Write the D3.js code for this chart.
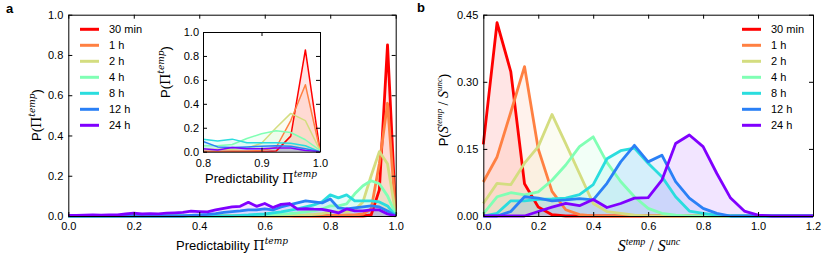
<!doctype html>
<html>
<head>
<meta charset="utf-8">
<script src="https://d3js.org/d3.v7.min.js"></script>
<style>
  body { margin: 0; background: #fff; }
  svg text { font-family: "Liberation Sans", Arial, sans-serif; fill: #000; }
  .axis text { font-size: 11px; }
  .axis path, .axis line { stroke: #000; stroke-width: 1; }
</style>
</head>
<body>
<div id="chart"></div>
<script>
// legend names, one per series (same order everywhere)
var seriesNames = ["30 min", "1 h", "2 h", "4 h", "8 h", "12 h", "24 h"];
var seriesColors = ["#ff0000", "#ff8042", "#d4dd80", "#80ffb4", "#2addde", "#2a80f6", "#8000ff"];

// panel a : predictability bins
var predX = [0, 0.025, 0.05, 0.075, 0.1, 0.125, 0.15, 0.175, 0.2, 0.225, 0.25, 0.275, 0.3, 0.325, 0.35,
  0.375, 0.4, 0.425, 0.45, 0.475, 0.5, 0.525, 0.55, 0.575, 0.6, 0.625, 0.65, 0.675, 0.7, 0.725, 0.75,
  0.775, 0.8, 0.825, 0.85, 0.875, 0.9, 0.925, 0.95, 0.975, 1.0];

var pred30min = [0, 0, 0, 0, 0, 0, 0, 0, 0, 0, 0, 0, 0, 0, 0, 0, 0, 0, 0, 0, 0, 0, 0, 0, 0, 0, 0, 0, 0, 0, 0,
  0, 0, 0, 0, 0, 0, 0.005, 0.13, 0.85, 0.01];
var pred1h = [0, 0, 0, 0, 0, 0, 0, 0, 0, 0, 0, 0, 0, 0, 0, 0, 0, 0, 0, 0, 0, 0, 0, 0, 0, 0, 0, 0, 0, 0, 0,
  0, 0.003, 0.003, 0.005, 0.005, 0.01, 0.035, 0.26, 0.56, 0.01];
var pred2h = [0, 0, 0, 0, 0, 0, 0, 0, 0, 0, 0, 0, 0, 0, 0, 0, 0, 0, 0, 0, 0, 0, 0, 0, 0, 0, 0, 0, 0.003, 0.005, 0.008,
  0.012, 0.02, 0.02, 0.02, 0.03, 0.07, 0.2, 0.32, 0.26, 0.01];
var pred4h = [0, 0, 0, 0, 0, 0, 0, 0, 0, 0, 0, 0, 0, 0, 0, 0, 0, 0, 0, 0, 0, 0, 0, 0.003, 0.005, 0.008, 0.01, 0.012, 0.015, 0.02, 0.025,
  0.035, 0.05, 0.05, 0.06, 0.11, 0.15, 0.175, 0.16, 0.1, 0.01];
var pred8h = [0, 0, 0, 0, 0, 0, 0, 0, 0, 0, 0, 0, 0, 0, 0, 0, 0, 0, 0, 0, 0, 0.003, 0.005, 0.008, 0.01, 0.015, 0.02, 0.028, 0.035, 0.045, 0.055,
  0.07, 0.105, 0.09, 0.105, 0.075, 0.075, 0.075, 0.07, 0.05, 0];
var pred12h = [0, 0, 0, 0, 0, 0, 0, 0, 0, 0, 0, 0, 0, 0, 0, 0.003, 0.005, 0.008, 0.012, 0.018, 0.022, 0.025, 0.03, 0.03, 0.035, 0.03, 0.045, 0.055, 0.065, 0.075, 0.07,
  0.065, 0.085, 0.04, 0.035, 0.04, 0.045, 0.05, 0.045, 0.025, 0];
var pred24h = [0.003, 0.003, 0.004, 0.005, 0.004, 0.005, 0.006, 0.01, 0.014, 0.01, 0.012, 0.011, 0.014, 0.016, 0.018,
  0.024, 0.022, 0.02, 0.03, 0.038, 0.045, 0.048, 0.068, 0.048, 0.062, 0.042, 0.058, 0.062, 0.034, 0.036, 0.034,
  0.033, 0.025, 0.015, 0.035, 0.025, 0.025, 0.03, 0.03, 0.01, 0];

// panel b : S_temp / S_unc bins
var ratioX = [0, 0.05, 0.1, 0.15, 0.2, 0.25, 0.3, 0.35, 0.4, 0.45, 0.5, 0.55, 0.6, 0.65, 0.7, 0.75, 0.8,
  0.85, 0.9, 0.95, 1.0, 1.05, 1.1, 1.15, 1.2];

var ratio30min = [0.16, 0.432, 0.323, 0.072, 0.02, 0.003, 0, 0, 0, 0, 0, 0, 0, 0, 0, 0, 0, 0, 0, 0, 0, 0, 0, 0, 0];
var ratio1h = [0.076, 0.132, 0.232, 0.334, 0.15, 0.055, 0.014, 0.003, 0, 0, 0, 0, 0, 0, 0, 0, 0, 0, 0, 0, 0, 0, 0, 0, 0];
var ratio2h = [0.028, 0.073, 0.07, 0.118, 0.155, 0.227, 0.162, 0.095, 0.028, 0.01, 0.006, 0.002, 0, 0, 0, 0, 0, 0, 0, 0, 0, 0, 0, 0, 0];
var ratio4h = [0.005, 0.043, 0.052, 0.047, 0.054, 0.08, 0.114, 0.155, 0.177, 0.12, 0.077, 0.043, 0.017, 0.006, 0.002, 0, 0, 0, 0, 0, 0, 0, 0, 0, 0];
var ratio8h = [0, 0.006, 0.034, 0.034, 0.037, 0.038, 0.04, 0.048, 0.07, 0.128, 0.146, 0.152, 0.118, 0.088, 0.043, 0.011, 0.006, 0.002, 0, 0, 0, 0, 0, 0, 0];
var ratio12h = [0, 0, 0.01, 0.043, 0.04, 0.034, 0.036, 0.039, 0.036, 0.073, 0.121, 0.158, 0.121, 0.136, 0.077, 0.04, 0.017, 0.006, 0, 0, 0, 0, 0, 0, 0];
var ratio24h = [0, 0, 0, 0, 0.01, 0.02, 0.028, 0.023, 0.037, 0.019, 0.028, 0.04, 0.041, 0.08, 0.162, 0.181, 0.155, 0.095, 0.04, 0.011, 0.002, 0, 0, 0, 0];

// tick values
var predTicks = [0, 0.2, 0.4, 0.6, 0.8, 1.0];
var insetXTicks = [0.8, 0.9, 1.0];
var ratioXTicks = [0, 0.2, 0.4, 0.6, 0.8, 1.0, 1.2];
var ratioYTicks = [0, 0.15, 0.30, 0.45];

var predSeries = [pred30min, pred1h, pred2h, pred4h, pred8h, pred12h, pred24h];
var ratioSeries = [ratio30min, ratio1h, ratio2h, ratio4h, ratio8h, ratio12h, ratio24h];

var svg = d3.select('#chart').append('svg')
  .attr('width', 831).attr('height', 260);

// draws a set of filled lines
function drawSeries(g, xs, series, x, y, lw) {
  series.forEach(function(vals, i) {
    var pts = xs.map(function(d, j) { return [d, vals[j]]; });
    g.append('path')
      .datum(pts)
      .attr('d', d3.area().x(function(d) { return x(d[0]); }).y0(y(0)).y1(function(d) { return y(d[1]); }))
      .style('fill', seriesColors[i])
      .style('fill-opacity', 0.1);
  });
  series.forEach(function(vals, i) {
    var pts = xs.map(function(d, j) { return [d, vals[j]]; });
    g.append('path')
      .datum(pts)
      .attr('d', d3.line().x(function(d) { return x(d[0]); }).y(function(d) { return y(d[1]); }))
      .style('fill', 'none')
      .style('stroke', seriesColors[i])
      .style('stroke-width', lw)
      .style('stroke-linejoin', 'round');
  });
}

// frame with inward ticks on all four sides
function drawAxes(g, x, y, xt, yt, xfmt, yfmt, xpad, ypad) {
  var x0 = x.range()[0], x1 = x.range()[1], y0 = y.range()[0], y1 = y.range()[1];
  g.append('g').attr('class', 'axis').attr('transform', 'translate(0,' + y0 + ')')
    .call(d3.axisBottom(x).tickValues(xt).tickFormat(d3.format(xfmt)).tickSizeInner(-4).tickSizeOuter(0).tickPadding(xpad));
  g.append('g').attr('class', 'axis').attr('transform', 'translate(0,' + y1 + ')')
    .call(d3.axisTop(x).tickValues(xt).tickFormat('').tickSizeInner(-4).tickSizeOuter(0));
  g.append('g').attr('class', 'axis').attr('transform', 'translate(' + x0 + ',0)')
    .call(d3.axisLeft(y).tickValues(yt).tickFormat(d3.format(yfmt)).tickSizeInner(-4).tickSizeOuter(0).tickPadding(ypad));
  g.append('g').attr('class', 'axis').attr('transform', 'translate(' + x1 + ',0)')
    .call(d3.axisRight(y).tickValues(yt).tickFormat('').tickSizeInner(-4).tickSizeOuter(0));
}

function legend(g, lx, ly) {
  seriesNames.forEach(function(name, i) {
    g.append('line')
      .attr('x1', lx).attr('x2', lx + 19)
      .attr('y1', ly + i * 16).attr('y2', ly + i * 16)
      .style('stroke', seriesColors[i]).style('stroke-width', 3);
    g.append('text')
      .attr('x', lx + 29).attr('y', ly + i * 16 + 4)
      .style('font-size', '11px')
      .text(name);
  });
}

// label text "Predictability Π^temp" or "P(Π^temp)"
function piLabel(t, prefix, suffix) {
  t.append('tspan').text(prefix);
  t.append('tspan').style('font-family', '"DejaVu Serif", serif').style('font-size', '13px').text('Π');
  t.append('tspan').attr('dy', -6).style('font-family', '"DejaVu Serif", serif').style('font-style', 'italic').style('font-size', '9px').text('temp');
  if (suffix) t.append('tspan').attr('dy', 6).text(suffix);
}

// ---------------- panel a ----------------
var ga = svg.append('g');
var xa = d3.scaleLinear().domain([0, 1]).range([68.3, 395.7]);
var ya = d3.scaleLinear().domain([0, 1]).range([216, 14.7]);
drawSeries(ga, predX, predSeries, xa, ya, 2.8);
drawAxes(ga, xa, ya, predTicks, predTicks, '.1f', '.1f', 6, 5);
legend(ga, 80, 29.3);

var lbA = ga.append('text').attr('x', 232).attr('y', 250).attr('text-anchor', 'middle').style('font-size', '13px');
piLabel(lbA, 'Predictability ', null);
var lyA = ga.append('text').attr('transform', 'translate(41,115) rotate(-90)').attr('text-anchor', 'middle').style('font-size', '13px');
piLabel(lyA, 'P(', ')');

// inset
var gi = svg.append('g');
var xi = d3.scaleLinear().domain([0.8, 1]).range([203, 320]);
var yi = d3.scaleLinear().domain([0, 1]).range([151.7, 32]);
gi.append('rect').attr('x', 203).attr('y', 32).attr('width', 117).attr('height', 119.7).style('fill', '#fff');
gi.append('clipPath').attr('id', 'clipi').append('rect').attr('x', 203).attr('y', 32).attr('width', 117).attr('height', 119.7);
var gic = gi.append('g').attr('clip-path', 'url(#clipi)');
drawSeries(gic, predX, predSeries, xi, yi, 1.5);
drawAxes(gi, xi, yi, insetXTicks, predTicks, '.1f', '.1f', 8, 4);
var lbI = gi.append('text').attr('x', 261).attr('y', 183).attr('text-anchor', 'middle').style('font-size', '13px');
piLabel(lbI, 'Predictability ', null);
var lyI = gi.append('text').attr('transform', 'translate(170,72) rotate(-90)').attr('text-anchor', 'middle').style('font-size', '13px');
piLabel(lyI, 'P(', ')');

// ---------------- panel b ----------------
var gb = svg.append('g');
var xb = d3.scaleLinear().domain([0, 1.2]).range([483.3, 813]);
var yb = d3.scaleLinear().domain([0, 0.45]).range([216, 14.7]);
drawSeries(gb, ratioX, ratioSeries, xb, yb, 2.8);
drawAxes(gb, xb, yb, ratioXTicks, ratioYTicks, '.1f', '.2f', 6, 5);
legend(gb, 742, 29.3);

function sLabel(t, big, small) {
  var serif = '"Liberation Serif", "DejaVu Serif", serif';
  t.append('tspan').style('font-family', serif).style('font-style', 'italic').style('font-size', big).text('S');
  t.append('tspan').attr('dy', -6).style('font-family', serif).style('font-style', 'italic').style('font-size', small).text('temp');
  t.append('tspan').attr('dy', 6).style('font-family', serif).style('font-size', big).text(' / ');
  t.append('tspan').style('font-family', serif).style('font-style', 'italic').style('font-size', big).text('S');
  t.append('tspan').attr('dy', -6).style('font-family', serif).style('font-style', 'italic').style('font-size', small).text('unc');
}
var lbB = gb.append('text').attr('x', 649).attr('y', 251).attr('text-anchor', 'middle');
sLabel(lbB, '16px', '10px');

var lyB = gb.append('text').attr('transform', 'translate(448,110) rotate(-90)').attr('text-anchor', 'middle').style('font-size', '13px');
lyB.append('tspan').text('P(');
sLabel(lyB, '14px', '9px');
lyB.append('tspan').attr('dy', 6).text(')');

// panel letters
svg.append('text').attr('x', 6).attr('y', 13).style('font-size', '13px').style('font-weight', 'bold').text('a');
svg.append('text').attr('x', 417).attr('y', 12).style('font-size', '13px').style('font-weight', 'bold').text('b');
</script>
</body>
</html>
